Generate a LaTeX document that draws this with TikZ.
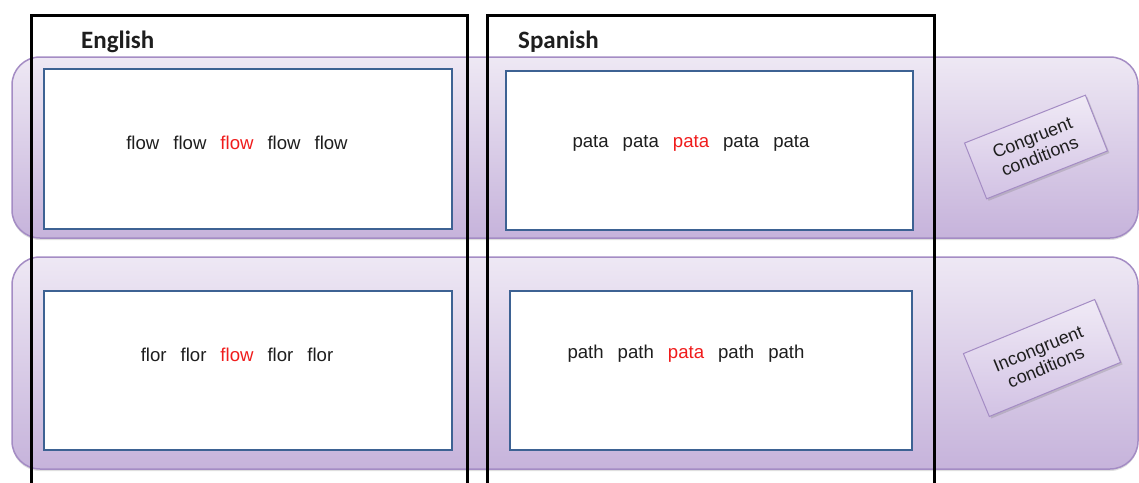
\documentclass[tikz,border=0pt]{standalone}
\usepackage{fontspec}
\setmainfont{Liberation Sans}
\newfontfamily\calib{Carlito}
\usetikzlibrary{shadows}
\definecolor{bandtop}{HTML}{EEE8F4}
\definecolor{bandbot}{HTML}{C6B3DB}
\definecolor{bandedge}{HTML}{A48CC4}
\definecolor{boxblue}{HTML}{3D6293}
\definecolor{condtop}{HTML}{F0EAF6}
\definecolor{condbot}{HTML}{D2C2E4}
\definecolor{redw}{HTML}{F01C1C}
\definecolor{txt}{HTML}{1E1E1E}
\newcommand{\gp}{\hspace{14pt}}
\newcommand{\rw}[1]{\textcolor{redw}{#1}}
\begin{document}
\begin{tikzpicture}[x=1pt,y=1pt,
  band/.style={draw=bandedge, line width=1.5pt, rounded corners=28pt,
    top color=bandtop, bottom color=bandbot,
    drop shadow={opacity=0.25, shadow xshift=0pt, shadow yshift=-2pt}},
  wordbox/.style={draw=boxblue, line width=2.6pt, fill=white},
  frame/.style={draw=black, line width=3pt},
  words/.style={font=\fontsize{18.6}{22}\selectfont, text=txt, inner sep=0pt},
  heading/.style={font=\calib\bfseries\fontsize{25}{29}\selectfont, text=txt, anchor=west, inner sep=0pt},
  cond/.style={draw=bandedge, line width=1pt, top color=condtop, bottom color=condbot,
    align=center, inner sep=0pt, font=\fontsize{18}{20}\selectfont, text=txt,
    drop shadow={opacity=0.3, shadow xshift=2pt, shadow yshift=-2pt}}
]
\useasboundingbox (0,0) rectangle (1139,-482);
\clip (0,0) rectangle (1139,-482);
% condition bands
\path[band] (12,-57) rectangle (1138,-238);
\path[band] (12,-257) rectangle (1138,-469);
% word boxes
\node[wordbox, minimum width=408pt, minimum height=160pt, inner sep=0pt] (ec) at (248,-149) {};
\node[wordbox, minimum width=407pt, minimum height=159pt, inner sep=0pt] (sc) at (709.5,-150.5) {};
\node[wordbox, minimum width=408pt, minimum height=159pt, inner sep=0pt] (ei) at (248,-370.5) {};
\node[wordbox, minimum width=402pt, minimum height=159pt, inner sep=0pt] (si) at (711,-370.5) {};
% words
\node[words] (ect) at (237,-143) {flow\gp flow\gp \rw{flow}\gp flow\gp flow};
\node[words] (sct) at (691,-143) {pata\gp pata\gp \rw{pata}\gp pata\gp pata};
\node[words] (eit) at (237,-355) {flor\gp flor\gp \rw{flow}\gp flor\gp flor};
\node[words] (sit) at (686,-354) {path\gp path\gp \rw{pata}\gp path\gp path};
% language frames
\draw[frame] (31,-495) -- (31,-15) -- (467,-15) -- (467,-495);
\draw[frame] (487,-495) -- (487,-15) -- (934,-15) -- (934,-495);
\node[heading] (en) at (81,-42) {English};
\node[heading] (es) at (518,-42) {Spanish};
% condition labels
\node[cond, rotate=21.6, minimum width=130pt, minimum height=60pt] (cg) at (1036,-147) {Congruent\\conditions};
\node[cond, rotate=22.4, minimum width=142pt, minimum height=68pt] (ic) at (1042,-358) {Incongruent\\conditions};
\end{tikzpicture}
\end{document}
